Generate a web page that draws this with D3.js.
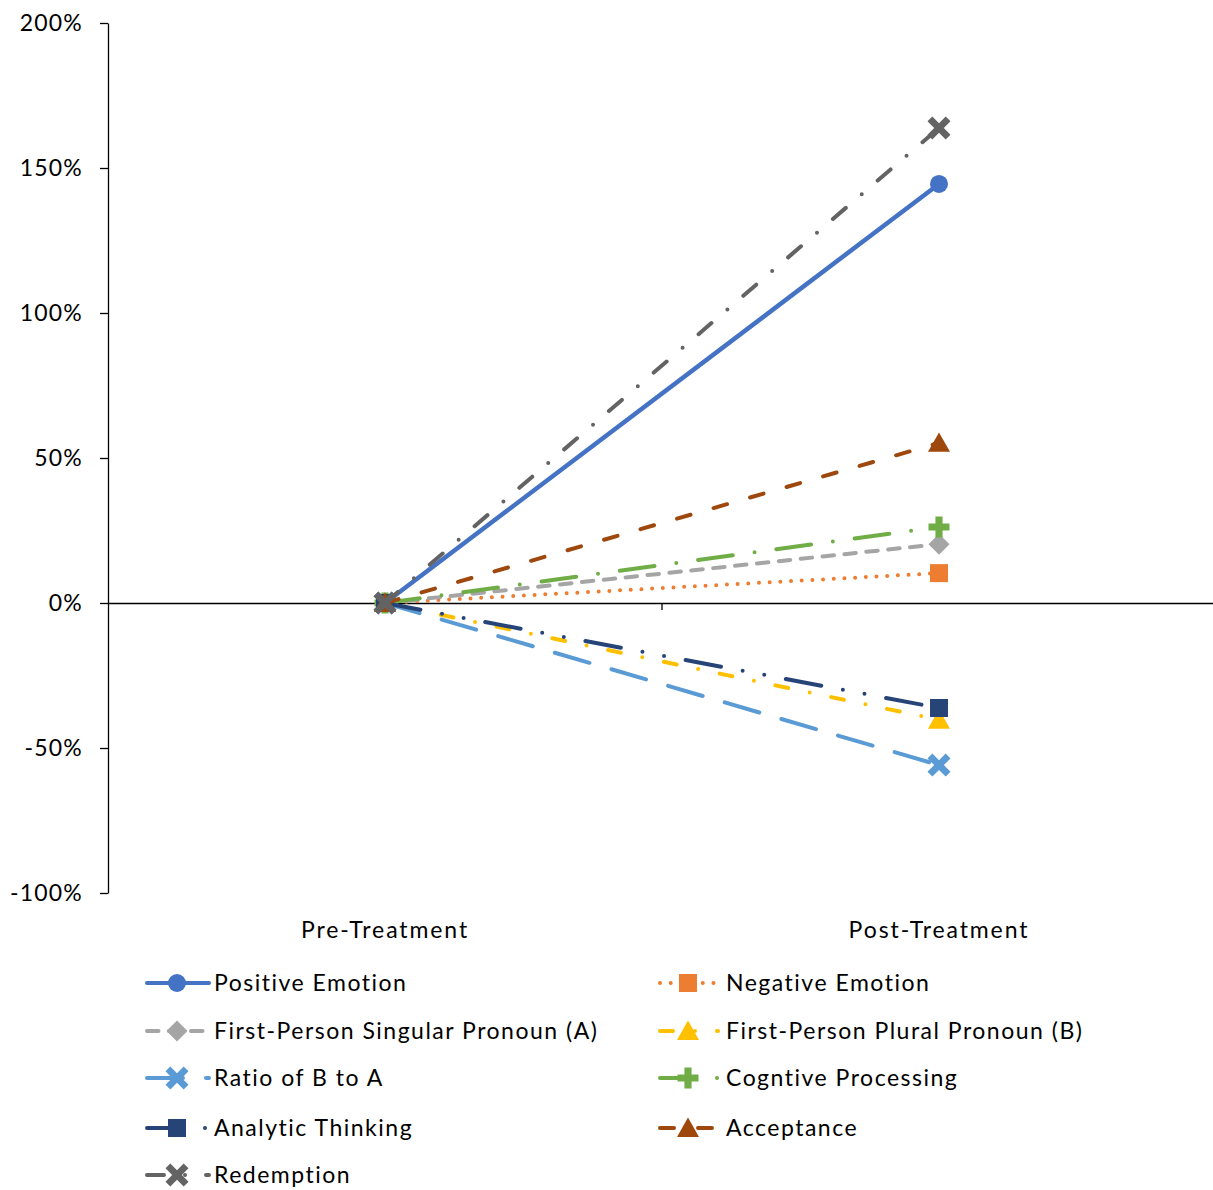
<!DOCTYPE html>
<html>
<head>
<meta charset="utf-8">
<script src="https://cdn.jsdelivr.net/npm/d3@7"></script>
<style>
  html, body { margin: 0; padding: 0; background: #fff; }
  svg { display: block; }
  text { font-family: Lato, "Open Sans", sans-serif; fill: #000; }
</style>
</head>
<body>
<svg id="chart" width="1213" height="1190"></svg>
<script>
// Percent change in linguistic measures between treatment stages
const categories = ["Pre-Treatment", "Post-Treatment"];
const seriesNames = [
  "Positive Emotion", "Negative Emotion",
  "First-Person Singular Pronoun (A)", "First-Person Plural Pronoun (B)",
  "Ratio of B to A", "Cogntive Processing",
  "Analytic Thinking", "Acceptance",
  "Redemption"
];
const preValues  = [0, 0, 0, 0, 0, 0, 0, 0, 0];
const postValues = [1.445, 0.103, 0.203, -0.403, -0.559, 0.262, -0.362, 0.552, 1.638];
const yTicks = [-1, -0.5, 0, 0.5, 1, 1.5, 2];

// Styling per series
const colors = ["#4472C4", "#ED7D31", "#A5A5A5", "#FFC000", "#5B9BD5",
                "#70AD47", "#264478", "#9E480E", "#636363"];
const dashes = [null, "0,10.7", "11.5,10.5", "13,22,0,22", "36,23",
                "35,22,0,22", "36,22,0,22,0,22", "14,24", "17,21,0,21"];
const markerKinds = ["circle", "square", "diamond", "triangle", "x",
                     "plus", "square", "triangle", "x"];

const svg = d3.select("#chart");

const x = d3.scaleBand().domain(categories).range([108, 1216]).padding(0);
const y = d3.scaleLinear().domain([-1, 2]).range([893, 23]);
const cx = c => x(c) + x.bandwidth() / 2;

// Y axis
const yAxis = svg.append("g")
  .attr("transform", `translate(${x.range()[0]},0)`)
  .call(d3.axisLeft(y).tickValues(yTicks).tickSize(8).tickSizeOuter(0)
        .tickPadding(17).tickFormat(d => Math.round(d * 100) + "%"));
yAxis.select(".domain").attr("stroke", "#000").attr("stroke-width", 1.3);
yAxis.selectAll(".tick line").attr("stroke", "#000").attr("stroke-width", 1.3);
yAxis.selectAll(".tick text").attr("font-size", 23)
  .attr("letter-spacing", 1.2)
  .attr("font-family", "Lato, sans-serif").attr("fill", "#000");

// X axis along the zero line, ticks at category boundaries
const xAxis = svg.append("g")
  .attr("transform", `translate(0,${y(0)})`)
  .call(d3.axisBottom(x).tickValues([]).tickSizeOuter(0));
xAxis.select(".domain").attr("stroke", "#000").attr("stroke-width", 1.3);
xAxis.selectAll(".boundary")
  .data(categories.slice(1))
  .join("line")
  .attr("x1", d => x(d)).attr("x2", d => x(d))
  .attr("y1", 0).attr("y2", 7)
  .attr("stroke", "#000").attr("stroke-width", 1.3);

// Category labels below plot area
svg.append("g").selectAll("text")
  .data(categories)
  .join("text")
  .attr("x", d => cx(d))
  .attr("y", 938)
  .attr("text-anchor", "middle")
  .attr("font-size", 23)
  .attr("letter-spacing", 1.9)
  .text(d => d);

// Marker shapes
const symbolTypes = {
  circle: { draw(ctx, s) { const r = s; ctx.moveTo(r, 0); ctx.arc(0, 0, r, 0, 2 * Math.PI); } },
  square: { draw(ctx, s) { ctx.rect(-s, -s, 2 * s, 2 * s); } },
  diamond: { draw(ctx, s) { ctx.moveTo(0, -s); ctx.lineTo(s, 0); ctx.lineTo(0, s); ctx.lineTo(-s, 0); ctx.closePath(); } },
  triangle: { draw(ctx, s) { ctx.moveTo(0, -s); ctx.lineTo(s * 1.05, s * 0.85); ctx.lineTo(-s * 1.05, s * 0.85); ctx.closePath(); } },
  plus: { draw(ctx, s) {
    const t = s * 0.34;
    ctx.moveTo(-t, -s); ctx.lineTo(t, -s); ctx.lineTo(t, -t); ctx.lineTo(s, -t);
    ctx.lineTo(s, t); ctx.lineTo(t, t); ctx.lineTo(t, s); ctx.lineTo(-t, s);
    ctx.lineTo(-t, t); ctx.lineTo(-s, t); ctx.lineTo(-s, -t); ctx.lineTo(-t, -t); ctx.closePath(); } },
  x: { draw(ctx, s) {
    const t = s * 0.42;
    ctx.moveTo(-s, -s + t); ctx.lineTo(-s + t, -s); ctx.lineTo(0, -t); ctx.lineTo(s - t, -s);
    ctx.lineTo(s, -s + t); ctx.lineTo(t, 0); ctx.lineTo(s, s - t); ctx.lineTo(s - t, s);
    ctx.lineTo(0, t); ctx.lineTo(-s + t, s); ctx.lineTo(-s, s - t); ctx.lineTo(-t, 0); ctx.closePath(); } }
};
const markerSize = { circle: 9, square: 9, diamond: 10.5, triangle: 10.5, plus: 10.5, x: 11.5 };
const markerPath = k => d3.symbol().type(symbolTypes[k]).size(markerSize[k])();

const series = seriesNames.map((name, i) => ({
  name, i,
  points: [{ c: categories[0], v: preValues[i] }, { c: categories[1], v: postValues[i] }]
}));

const line = d3.line().x(d => cx(d.c)).y(d => y(d.v));

// Lines and markers, drawn in series order
const sg = svg.append("g").selectAll("g")
  .data(series)
  .join("g");
sg.append("path")
  .attr("d", d => line(d.points))
  .attr("fill", "none")
  .attr("stroke", d => colors[d.i])
  .attr("stroke-width", d => d.i === 0 ? 4.5 : 4)
  .attr("stroke-linecap", "round")
  .attr("stroke-dasharray", d => dashes[d.i]);
sg.selectAll(".mk")
  .data(d => d.points.map(p => ({ ...p, i: d.i })))
  .join("path")
  .attr("class", "mk")
  .attr("transform", p => `translate(${cx(p.c)},${y(p.v)})`)
  .attr("d", p => markerPath(markerKinds[p.i]))
  .attr("fill", p => colors[p.i]);

// Legend in two columns
const legendCols = [147, 660];
const legendRows = [983, 1031, 1078, 1128, 1175];
const lg = svg.append("g").selectAll("g")
  .data(series)
  .join("g")
  .attr("transform", d => `translate(${legendCols[d.i % 2]},${legendRows[Math.floor(d.i / 2)]})`);
lg.append("line")
  .attr("x1", 0).attr("x2", d => d.i % 2 ? 58 : 62)
  .attr("y1", 0).attr("y2", 0)
  .attr("stroke", d => colors[d.i])
  .attr("stroke-width", 4)
  .attr("stroke-linecap", "round")
  .attr("stroke-dasharray", d => dashes[d.i]);
lg.append("path")
  .attr("transform", d => `translate(${d.i % 2 ? 28 : 30},0)`)
  .attr("d", d => markerPath(markerKinds[d.i]))
  .attr("fill", d => colors[d.i]);
lg.append("text")
  .attr("x", d => d.i % 2 ? 66 : 67)
  .attr("y", 8)
  .attr("font-size", 23)
  .attr("letter-spacing", 1.5)
  .text(d => d.name);
</script>
</body>
</html>
